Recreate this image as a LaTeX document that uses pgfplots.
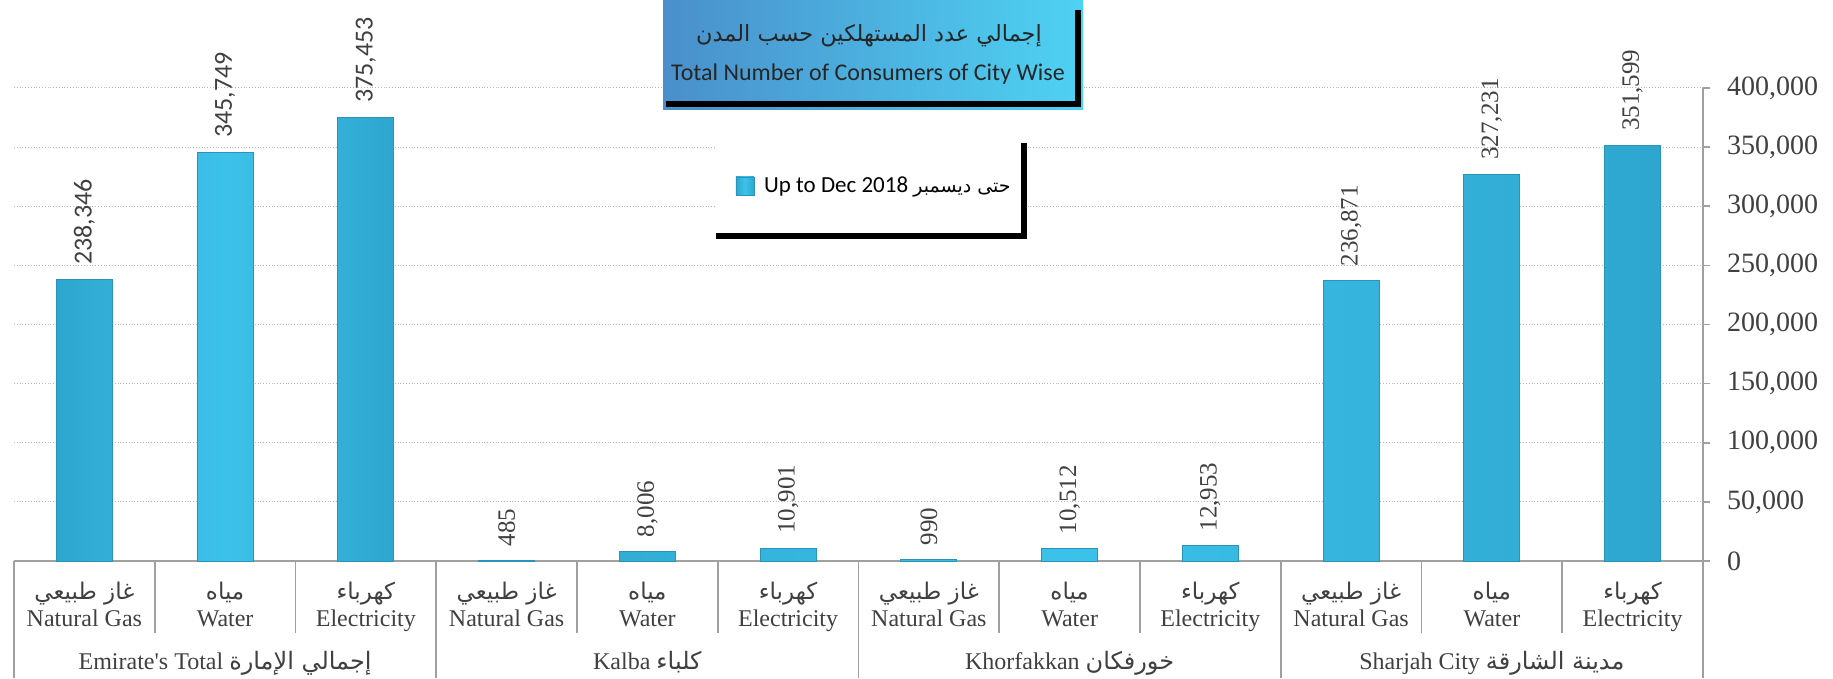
\documentclass[border=0pt]{standalone}
\usepackage{fontspec}
\usepackage{pgfplots}
\pgfplotsset{compat=1.18}
\setmainfont{Liberation Serif}
\newfontfamily\calibri{Carlito}
\newfontfamily\arabicfont[Script=Arabic]{DejaVu Sans}
\TeXXeTstate=1
\definecolor{barmid}{HTML}{3CC2EA}
\definecolor{baredge}{HTML}{2EA6CF}
\definecolor{bardraw}{HTML}{2A94B8}
\definecolor{axgray}{HTML}{A0A0A0}
\definecolor{txt}{HTML}{404040}
\definecolor{tleft}{HTML}{4A8FCB}
\definecolor{tright}{HTML}{4ED2F3}

\pgfplotsset{
  barstyle/.style={draw=bardraw, line width=0.4pt, left color=baredge, right color=baredge, middle color=barmid},
}

\begin{document}
\begin{tikzpicture}
\begin{axis}[
  at={(0pt,0pt)}, anchor=south west,
  scale only axis, width=844.5pt, height=236.5pt,
  xmin=-0.5, xmax=11.5, ymin=0, ymax=400000,
  axis x line*=bottom, axis y line*=right,
  axis line style={draw=axgray, line width=0.8pt},
  ybar, bar width=28pt, bar shift=0pt,
  xtick={0,...,11},
  xticklabels={
    {{\arabicfont\fontsize{11.5}{13.5}\selectfont\beginR غاز طبيعي\endR}\\Natural Gas},{{\arabicfont\fontsize{11.5}{13.5}\selectfont\beginR مياه\endR}\\Water},{{\arabicfont\fontsize{11.5}{13.5}\selectfont\beginR كهرباء\endR}\\Electricity},
    {{\arabicfont\fontsize{11.5}{13.5}\selectfont\beginR غاز طبيعي\endR}\\Natural Gas},{{\arabicfont\fontsize{11.5}{13.5}\selectfont\beginR مياه\endR}\\Water},{{\arabicfont\fontsize{11.5}{13.5}\selectfont\beginR كهرباء\endR}\\Electricity},
    {{\arabicfont\fontsize{11.5}{13.5}\selectfont\beginR غاز طبيعي\endR}\\Natural Gas},{{\arabicfont\fontsize{11.5}{13.5}\selectfont\beginR مياه\endR}\\Water},{{\arabicfont\fontsize{11.5}{13.5}\selectfont\beginR كهرباء\endR}\\Electricity},
    {{\arabicfont\fontsize{11.5}{13.5}\selectfont\beginR غاز طبيعي\endR}\\Natural Gas},{{\arabicfont\fontsize{11.5}{13.5}\selectfont\beginR مياه\endR}\\Water},{{\arabicfont\fontsize{11.5}{13.5}\selectfont\beginR كهرباء\endR}\\Electricity}},
  xtick style={draw=none},
  xticklabel style={align=center, font=\fontsize{12}{13.5}\selectfont, text=txt, anchor=base, yshift=-29.5pt},
  extra x ticks={1,4,7,10},
  extra x tick labels={{Emirate\textquotesingle s Total {\arabicfont\beginR إجمالي الإمارة\endR}},{Kalba {\arabicfont\beginR كلباء\endR}},{Khorfakkan {\arabicfont\beginR خورفكان\endR}},{Sharjah City {\arabicfont\beginR مدينة الشارقة\endR}}},
  extra x tick style={xtick style={draw=none}, xticklabel style={yshift=-21.5pt}},
  ytick={0,50000,...,400000},
  scaled y ticks=false,
  /pgf/number format/fixed,
  /pgf/number format/precision=0,
  /pgf/number format/1000 sep={,},
  /pgf/number format/assume math mode=true,
  yticklabel style={font=\fontsize{14}{16}\selectfont, text=txt, xshift=5pt},
  tick align=outside, major tick length=3.5pt,
  ytick style={draw=axgray, line width=0.8pt},
  ymajorgrids, grid style={densely dotted, draw=gray!55, line width=0.5pt},
  clip=false,
  nodes near coords,
  every node near coord/.append style={rotate=90, anchor=west, inner xsep=7pt, inner ysep=0pt, text=txt},
  legend style={at={(rel axis cs:0.427,0.793)}, anchor=west, draw=none, fill=none, inner sep=0pt,
    font=\calibri\fontsize{11.5}{14}\selectfont, text=black},
  legend image code/.code={\fill[left color=baredge, right color=baredge, middle color=barmid, draw=bardraw, line width=0.3pt] (0pt,-4.5pt) rectangle (9pt,4.5pt);},
]
\fill[white] (rel axis cs:0.4150,0.6913) rectangle (rel axis cs:0.5968,0.8943);
\addplot[barstyle, every node near coord/.append style={font=\calibri\fontsize{13}{14}\selectfont}]
  coordinates {(0,238346) (1,345749) (2,375453)};
\addlegendentry{\hspace{3pt}Up to Dec 2018 {\arabicfont\fontsize{9.5}{12}\selectfont\beginR حتى ديسمبر\endR}}
\addplot[barstyle, forget plot, every node near coord/.append style={font=\fontsize{12.5}{14}\selectfont}]
  coordinates {(3,485) (4,8006) (5,10901) (6,990) (7,10512) (8,12953) (9,236871) (10,327231) (11,351599)};
\end{axis}
\begin{scope}[x=0.5pt,y=-0.5pt,shift={(-7pt,280.5pt)}]
  \foreach \k in {1,2,4,5,7,8,10,11} {
    \draw[axgray, line width=0.8pt] ({14+\k*140.75},561) -- ({14+\k*140.75},633);
  }
  \foreach \k in {0,3,6,9,12} {
    \draw[axgray, line width=0.8pt] ({14+\k*140.75},561) -- ({14+\k*140.75},678);
  }
  \shade[left color=tleft, right color=tright] (663,0) rectangle (1083,110);
  \fill[black] (1075,10) rectangle (1081,107);
  \fill[black] (666,101) rectangle (1081,107);
  \node[font=\arabicfont\fontsize{11.2}{13}\selectfont, text=black!85] at (869,36) {\beginR إجمالي عدد المستهلكين حسب المدن\endR};
  \node[font=\calibri\fontsize{12}{14}\selectfont, text=black!85] at (868,74) {Total Number of Consumers of City Wise};
  \fill[black] (1021,143) rectangle (1027,239);
  \fill[black] (716,233) rectangle (1027,239);
  \pgfresetboundingbox
  \useasboundingbox (0,0) rectangle (1833,679);
\end{scope}
\end{tikzpicture}
\end{document}
